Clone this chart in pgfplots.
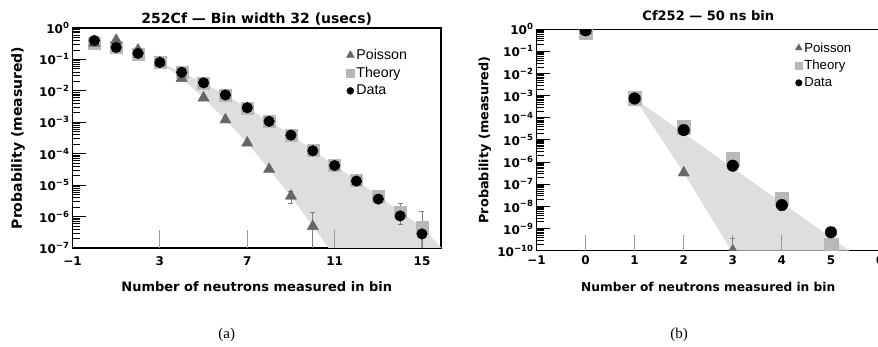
\documentclass[border=0pt]{standalone}
\usepackage{fontspec}
\setmainfont{DejaVu Sans}
\newfontfamily\legfont{Liberation Sans}
\newfontfamily\capfont{Liberation Serif}
\usepackage{pgfplots}
\usepackage{pgfplotstable}
\pgfplotsset{compat=1.18}
\definecolor{polyc}{gray}{0.40}
\definecolor{theoc}{gray}{0.72}
\definecolor{shadec}{gray}{0.87}
\newcommand\fs[1]{\fontsize{#1}{#1}\selectfont}
\newcommand\tl[1]{10\raisebox{0.42em}{\fs{8.5}#1}}

\pgfplotstableread{
x y
0 0.40
1 0.24
2 0.155
3 0.08
4 0.039
5 0.018
6 0.0074
7 0.0029
8 0.00107
9 3.9e-4
10 1.24e-4
11 4.2e-5
12 1.35e-5
13 3.6e-6
14 1.05e-6
15 2.8e-7
}\Ldata
\pgfplotstableread{
x y
0 0.33
1 0.25
2 0.15
3 0.08
4 0.039
5 0.018
6 0.0075
7 0.0029
8 0.0011
9 4.0e-4
10 1.3e-4
11 4.3e-5
12 1.4e-5
13 4.5e-6
14 1.4e-6
15 4.7e-7
16 1.3e-7
}\Ltheory
\pgfplotstableread{
x y
0 0.33
1 0.41
2 0.20
3 0.08
4 0.025
5 0.006
6 0.0012
7 2.2e-4
8 3.2e-5
9 4.5e-6
10 4.9e-7
}\Lpoisson
\pgfplotstableread{
x y
0 0.9
1 7.5e-4
2 2.8e-5
3 6.9e-7
4 1.15e-8
5 6.8e-10
}\Rdata
\pgfplotstableread{
x y
0 0.75
1 7.5e-4
2 3.7e-5
3 1.4e-6
4 2.2e-8
5 1.8e-10
}\Rtheory
\pgfplotstableread{
x y
0 0.9
1 7.5e-4
2 3.3e-7
3 1.0e-10
}\Rpoisson

\begin{document}
\begin{tikzpicture}
% ---------------- left panel ----------------
\begin{axis}[
  scale only axis, anchor=south west,
  at={(72.5pt,99pt)}, width=368.5pt, height=220pt,
  ymode=log,
  xmin=-1, xmax=15.87, ymin=1e-7, ymax=1,
  axis line style={line width=1.5pt},
  tick align=inside,
  ytick pos=left, xtick pos=bottom,
  major tick length=13pt, minor tick length=7pt,
  tick style={line width=1pt, black},
  minor tick style={line width=0.8pt},
  tick label style={font=\fs{12}\bfseries},
  xtick={-1,3,7,11,15}, xticklabels={−1,3,7,11,15},
  xticklabel style={yshift=-5pt},
  xtick style={draw=none},
  ytick={1e-7,1e-6,1e-5,1e-4,1e-3,1e-2,1e-1,1},
  yticklabels={\tl{−7},\tl{−6},\tl{−5},\tl{−4},\tl{−3},\tl{−2},\tl{−1},\tl{0}},
  title={252Cf — Bin width 32 (usecs)},
  title style={font=\fs{14}\bfseries, at={(axis description cs:0.5,1)}, anchor=center, yshift=3pt},
  xlabel={Number of neutrons measured in bin},
  xlabel style={font=\fs{13}\bfseries, at={(axis description cs:0.5,0)}, anchor=center, yshift=-39pt},
  ylabel={Probability (measured)},
  ylabel style={font=\fs{14}\bfseries, at={([xshift=-54.5pt]axis description cs:0,0.5)}, anchor=center},
  legend cell align=left,
  legend style={at={(0.74,0.918)}, anchor=north west, draw=none, fill=none, font=\legfont\fs{14.2}, row sep=2.2pt, inner sep=1pt},
]
\addlegendimage{only marks, mark=triangle*, mark size=4.5pt, polyc}
\addlegendentry{Poisson}
\addlegendimage{only marks, mark=square*, mark size=4pt, theoc}
\addlegendentry{Theory}
\addlegendimage{only marks, mark=*, mark size=3.5pt, black}
\addlegendentry{Data}
\addplot[fill=shadec, draw=none, forget plot] coordinates {
 (3,0.08) (4,0.039) (5,0.018) (6,0.0075) (7,0.0029) (8,0.0011) (9,4.0e-4)
 (10,1.3e-4) (11,4.3e-5) (12,1.4e-5) (13,4.5e-6) (14,1.4e-6) (15,4.7e-7)
 (15.9,1e-7) (10.72,1e-7) (10,4.9e-7) (9,4.5e-6) (8,3.2e-5) (7,2.2e-4)
 (6,0.0012) (5,0.006) (4,0.025) (3,0.08)};
\pgfplotsinvokeforeach{3,7,11,15}{\draw[gray!80, line width=1pt] (axis cs:#1,1e-7) -- ++(0pt,18pt);}
\addplot[gray, line width=0.6pt, mark=-, mark size=2.5pt, forget plot] coordinates {(9,6.3e-6) (9,2.7e-6)};
\addplot[gray, line width=0.6pt, mark=-, mark size=2.5pt, forget plot] coordinates {(10,1.35e-6) (10,1e-8)};
\addplot[gray, line width=0.6pt, mark=-, mark size=2.5pt, forget plot] coordinates {(14,2.7e-6) (14,5.7e-7)};
\addplot[gray, line width=0.6pt, mark=-, mark size=2.5pt, forget plot] coordinates {(15,1.5e-6) (15,1e-8)};
\addplot[only marks, mark=square*, mark size=6pt, theoc, forget plot] table[x=x,y=y] {\Ltheory};
\addplot[only marks, mark=triangle*, mark size=6.5pt, polyc, forget plot] table[x=x,y=y] {\Lpoisson};
\addplot[only marks, mark=*, mark size=5.3pt, black, forget plot] table[x=x,y=y] {\Ldata};
\end{axis}
% ---------------- right panel ----------------
\begin{axis}[
  scale only axis, anchor=south west,
  at={(536.5pt,96.3pt)}, width=343.5pt, height=221.4pt,
  ymode=log, clip marker paths=true,
  xmin=-1, xmax=6, ymin=1e-10, ymax=1,
  axis line style={line width=1.5pt},
  tick align=inside,
  ytick pos=left, xtick pos=bottom,
  major tick length=13pt, minor tick length=7pt,
  tick style={line width=1pt, black},
  minor tick style={line width=0.8pt},
  tick label style={font=\fs{12}\bfseries},
  xtick={-1,0,1,2,3,4,5,6}, xticklabels={−1,0,1,2,3,4,5,6},
  xticklabel style={yshift=-1.5pt},
  xtick style={draw=none},
  ytick={1e-10,1e-9,1e-8,1e-7,1e-6,1e-5,1e-4,1e-3,1e-2,1e-1,1},
  yticklabels={\tl{−10},\tl{−9},\tl{−8},\tl{−7},\tl{−6},\tl{−5},\tl{−4},\tl{−3},\tl{−2},\tl{−1},\tl{0}},
  title={Cf252 — 50 ns bin},
  title style={font=\fs{13}\bfseries, at={(axis description cs:0.5,1)}, anchor=center, yshift=8pt},
  xlabel={Number of neutrons measured in bin},
  xlabel style={font=\fs{12.2}\bfseries, at={(axis description cs:0.5,0)}, anchor=center, yshift=-36.5pt},
  ylabel={Probability (measured)},
  ylabel style={font=\fs{12.8}\bfseries, at={([xshift=-51.5pt]axis description cs:0,0.5)}, anchor=center},
  legend cell align=left,
  legend style={at={(0.75,0.955)}, anchor=north west, draw=none, fill=none, font=\legfont\fs{13.2}, row sep=2.5pt, inner sep=1pt},
]
\addlegendimage{only marks, mark=triangle*, mark size=4pt, polyc}
\addlegendentry{Poisson}
\addlegendimage{only marks, mark=square*, mark size=3.5pt, theoc}
\addlegendentry{Theory}
\addlegendimage{only marks, mark=*, mark size=3.3pt, black}
\addlegendentry{Data}
\addplot[fill=shadec, draw=none, forget plot] coordinates {
 (1,7.5e-4) (5.38,1e-10) (2.97,1e-10) (2,3.3e-7) (1,7.5e-4)};
\pgfplotsinvokeforeach{0,1,2,3,4,5}{\draw[gray!80, line width=1pt] (axis cs:#1,1e-10) -- ++(0pt,15.7pt);}
\addplot[gray, line width=0.6pt, mark=-, mark size=2.5pt, forget plot] coordinates {(3,3.7e-10) (3,1e-10)};
\addplot[only marks, mark=square*, mark size=6.8pt, theoc, forget plot] table[x=x,y=y] {\Rtheory};
\addplot[only marks, mark=triangle*, mark size=6.5pt, polyc, forget plot] table[x=x,y=y] {\Rpoisson};
\addplot[only marks, mark=*, mark size=5.8pt, black, forget plot] table[x=x,y=y] {\Rdata};
\end{axis}
\node[font=\capfont\fs{15}] at (226.7pt,12pt) {(a)};
\node[font=\capfont\fs{15}] at (679pt,12pt) {(b)};
\pgfresetboundingbox
\path[use as bounding box] (0,0) rectangle (878pt,347pt);
\end{tikzpicture}
\end{document}
